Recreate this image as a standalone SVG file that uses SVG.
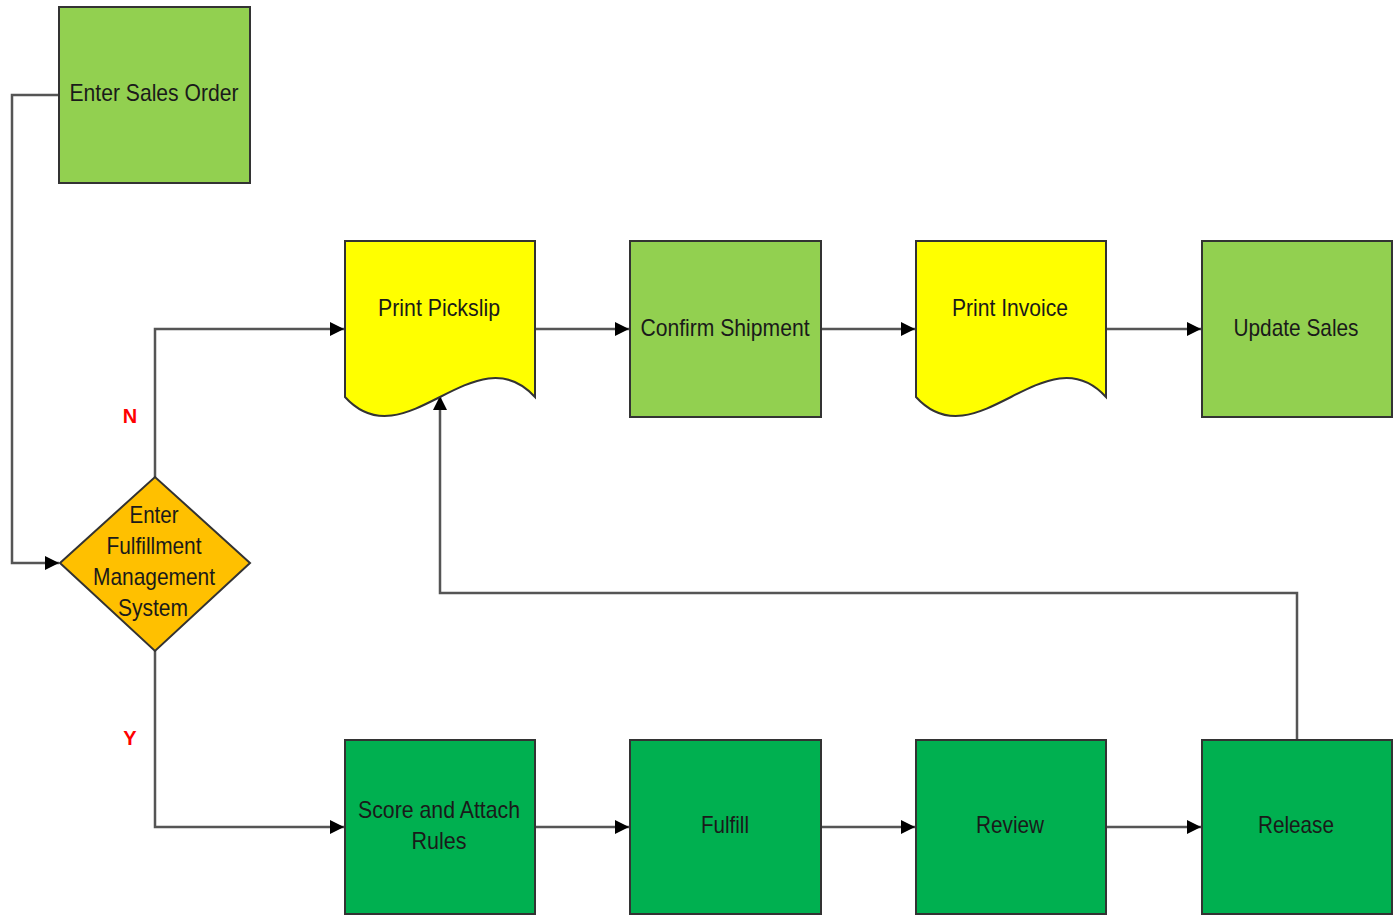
<svg xmlns="http://www.w3.org/2000/svg" width="1396" height="915" viewBox="0 0 1396 915">
<style>
.box{stroke:#333;stroke-width:2}
.lg{fill:#92D050}
.dg{fill:#00B050}
.yl{fill:#FFFF00}
.or{fill:#FFC000}
.t{font-family:"Liberation Sans",Arial,sans-serif;font-size:24px;fill:#1a1a1a;text-anchor:middle}
.lbl{font-family:"Liberation Sans",Arial,sans-serif;font-size:20px;font-weight:bold;fill:#FF0000;text-anchor:middle}
.c{fill:none;stroke:#555;stroke-width:2.5}
</style>
<defs>
<marker id="arr" markerUnits="userSpaceOnUse" markerWidth="16" markerHeight="14" refX="14" refY="7" orient="auto">
<path d="M0,0 L14,7 L0,14 Z" fill="#000"/>
</marker>
</defs>
<rect width="1396" height="915" fill="#fff"/>
<g id="connectors">
<path class="c" d="M59,95 H12 V563 H59" marker-end="url(#arr)"/>
<path class="c" d="M155,477 V329 H344" marker-end="url(#arr)"/>
<path class="c" d="M155,651 V827 H344" marker-end="url(#arr)"/>
<path class="c" d="M535,329 H629" marker-end="url(#arr)"/>
<path class="c" d="M821,329 H915" marker-end="url(#arr)"/>
<path class="c" d="M1106,329 H1201" marker-end="url(#arr)"/>
<path class="c" d="M535,827 H629" marker-end="url(#arr)"/>
<path class="c" d="M821,827 H915" marker-end="url(#arr)"/>
<path class="c" d="M1106,827 H1201" marker-end="url(#arr)"/>
<path class="c" d="M1297,740 V593 H440 V396" marker-end="url(#arr)"/>
</g>
<g id="n-enter-sales-order">
<rect class="box lg" x="59" y="7" width="191" height="176"/>
<text class="t" x="154" y="101" textLength="169" lengthAdjust="spacingAndGlyphs">Enter Sales Order</text>
</g>
<g id="n-fulfillment-decision">
<polygon class="box or" points="60,563 155,477 250,563 155,651"/>
<text class="t" x="154" y="523" textLength="49" lengthAdjust="spacingAndGlyphs">Enter</text>
<text class="t" x="154" y="554" textLength="95" lengthAdjust="spacingAndGlyphs">Fulfillment</text>
<text class="t" x="154" y="585" textLength="122" lengthAdjust="spacingAndGlyphs">Management</text>
<text class="t" x="153" y="616" textLength="70" lengthAdjust="spacingAndGlyphs">System</text>
</g>
<text class="lbl" x="130" y="423">N</text>
<text class="lbl" x="130" y="745">Y</text>
<g id="n-print-pickslip">
<path class="box yl" d="M345,241 H535 V397 C475,331 405,463 345,397 Z"/>
<text class="t" x="439" y="316" textLength="122" lengthAdjust="spacingAndGlyphs">Print Pickslip</text>
</g>
<g id="n-confirm-shipment">
<rect class="box lg" x="630" y="241" width="191" height="176"/>
<text class="t" x="725" y="336" textLength="169" lengthAdjust="spacingAndGlyphs">Confirm Shipment</text>
</g>
<g id="n-print-invoice">
<path class="box yl" d="M916,241 H1106 V397 C1046,331 976,463 916,397 Z"/>
<text class="t" x="1010" y="316" textLength="116" lengthAdjust="spacingAndGlyphs">Print Invoice</text>
</g>
<g id="n-update-sales">
<rect class="box lg" x="1202" y="241" width="190" height="176"/>
<text class="t" x="1296" y="336" textLength="125" lengthAdjust="spacingAndGlyphs">Update Sales</text>
</g>
<g id="n-score-attach">
<rect class="box dg" x="345" y="740" width="190" height="174"/>
<text class="t" x="439" y="818" textLength="162" lengthAdjust="spacingAndGlyphs">Score and Attach</text>
<text class="t" x="439" y="849" textLength="55" lengthAdjust="spacingAndGlyphs">Rules</text>
</g>
<g id="n-fulfill">
<rect class="box dg" x="630" y="740" width="191" height="174"/>
<text class="t" x="725" y="833" textLength="48" lengthAdjust="spacingAndGlyphs">Fulfill</text>
</g>
<g id="n-review">
<rect class="box dg" x="916" y="740" width="190" height="174"/>
<text class="t" x="1010" y="833" textLength="68" lengthAdjust="spacingAndGlyphs">Review</text>
</g>
<g id="n-release">
<rect class="box dg" x="1202" y="740" width="190" height="174"/>
<text class="t" x="1296" y="833" textLength="76" lengthAdjust="spacingAndGlyphs">Release</text>
</g>
</svg>
